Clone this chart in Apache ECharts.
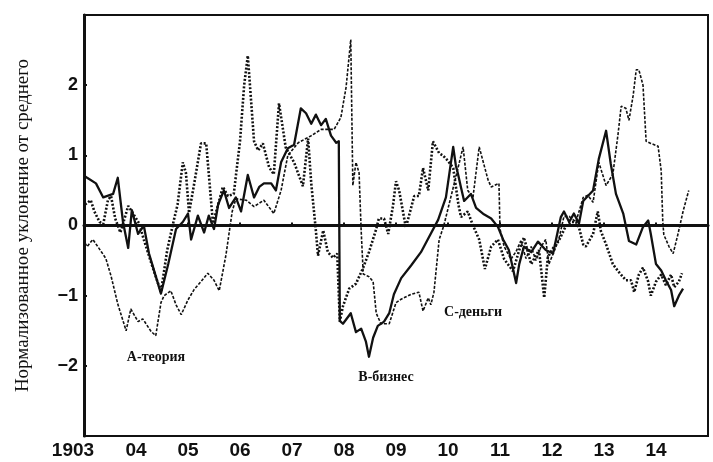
<!DOCTYPE html>
<html>
<head>
<meta charset="utf-8">
<script src="https://cdn.jsdelivr.net/npm/echarts@6/dist/echarts.min.js"></script>
<style>
  html, body { margin: 0; padding: 0; background: #fff; }
  #chart { width: 713px; height: 462px; }
</style>
</head>
<body>
<div id="chart"></div>
<script>
// Harvard ABC curves, 1903–1914: normalized deviation from the mean
// Each entry: [year, deviation]

// A — speculation (dotted)
const curveA = [
  [1903.02,0.30],[1903.13,0.36],[1903.20,0.20],[1903.30,0.05],[1903.37,0.02],[1903.46,0.36],[1903.52,0.42],
  [1903.60,0.10],[1903.70,-0.10],[1903.80,0.15],[1903.85,0.28],[1903.92,0.20],[1904.06,0.03],[1904.15,-0.20],
  [1904.30,-0.55],[1904.48,-0.95],[1904.60,-0.35],[1904.72,0.05],[1904.80,0.30],[1904.90,0.90],[1904.96,0.75],
  [1905.02,0.18],[1905.12,0.60],[1905.25,1.17],[1905.35,1.17],[1905.48,0.03],[1905.58,0.30],[1905.67,0.55],
  [1905.77,0.42],[1905.88,0.45],[1906.00,1.20],[1906.08,2.00],[1906.15,2.42],[1906.27,1.20],[1906.35,1.07],
  [1906.44,1.17],[1906.56,0.83],[1906.65,0.73],[1906.75,1.74],[1906.88,1.11],[1907.04,0.90],[1907.21,0.56],
  [1907.31,1.24],[1907.37,0.60],[1907.46,-0.08],[1907.50,-0.43],[1907.60,-0.07],[1907.69,-0.38],[1907.79,-0.46],
  [1907.87,-0.40],[1907.92,-1.37],[1907.98,-1.15],[1908.10,-0.90],[1908.23,-0.83],[1908.37,-0.60],[1908.48,-0.38],
  [1908.62,-0.05],[1908.67,0.10],[1908.77,0.10],[1908.85,-0.12],[1908.94,0.27],[1909.00,0.63],[1909.06,0.50],
  [1909.19,-0.03],[1909.35,0.42],[1909.44,0.42],[1909.52,0.82],[1909.62,0.50],[1909.71,1.20],[1909.83,1.03],
  [1909.90,1.00],[1910.00,0.92],[1910.10,0.82],[1910.20,0.30],[1910.25,0.12],[1910.38,0.20],[1910.48,0.00],
  [1910.60,-0.20],[1910.71,-0.62],[1910.83,-0.30],[1910.96,-0.20],[1911.08,-0.48],[1911.17,-0.57],[1911.25,-0.65],
  [1911.37,-0.35],[1911.46,-0.17],[1911.60,-0.55],[1911.75,-0.35],[1911.85,-1.03],[1911.92,-0.45],[1912.04,-0.30],
  [1912.13,-0.22],[1912.27,0.00],[1912.37,0.05],[1912.46,0.05],[1912.52,-0.03],[1912.60,-0.27],[1912.65,-0.30],
  [1912.79,-0.12],[1912.88,0.20],[1912.94,-0.08],[1913.04,-0.27],[1913.17,-0.55],[1913.27,-0.65],[1913.42,-0.78],
  [1913.52,-0.78],[1913.58,-0.95],[1913.67,-0.70],[1913.75,-0.60],[1913.85,-0.80],[1913.90,-1.00],[1914.00,-0.80],
  [1914.10,-0.70],[1914.19,-0.85],[1914.29,-0.70],[1914.35,-0.88],[1914.44,-0.80],[1914.50,-0.68]
];

// B — business (heavy solid)
const curveB = [
  [1903.02,0.70],[1903.06,0.68],[1903.23,0.60],[1903.37,0.40],[1903.56,0.45],[1903.65,0.68],[1903.75,0.05],
  [1903.85,-0.32],[1903.92,0.22],[1904.04,-0.12],[1904.15,0.00],[1904.25,-0.40],[1904.48,-0.97],[1904.62,-0.55],
  [1904.77,-0.05],[1904.90,0.05],[1905.00,0.17],[1905.06,-0.20],[1905.19,0.14],[1905.31,-0.10],[1905.40,0.14],
  [1905.50,-0.05],[1905.58,0.30],[1905.69,0.50],[1905.79,0.25],[1905.92,0.40],[1906.02,0.20],[1906.15,0.72],
  [1906.27,0.40],[1906.37,0.55],[1906.46,0.60],[1906.60,0.60],[1906.69,0.50],[1906.79,0.90],[1906.92,1.10],
  [1907.04,1.15],[1907.17,1.67],[1907.27,1.60],[1907.37,1.45],[1907.46,1.58],[1907.56,1.43],[1907.65,1.52],
  [1907.75,1.28],[1907.85,1.18],[1907.90,1.20],[1907.92,-1.36],[1907.98,-1.40],[1908.13,-1.25],[1908.23,-1.52],
  [1908.33,-1.47],[1908.42,-1.65],[1908.48,-1.87],[1908.56,-1.60],[1908.65,-1.43],[1908.77,-1.37],[1908.87,-1.25],
  [1908.96,-0.98],[1909.10,-0.75],[1909.29,-0.57],[1909.48,-0.38],[1909.63,-0.17],[1909.81,0.08],[1909.96,0.40],
  [1910.10,1.12],[1910.15,0.86],[1910.19,0.74],[1910.25,0.54],[1910.31,0.35],[1910.44,0.45],[1910.54,0.25],
  [1910.69,0.16],[1910.83,0.10],[1910.96,-0.02],[1911.06,-0.20],[1911.17,-0.35],[1911.31,-0.82],[1911.37,-0.55],
  [1911.46,-0.30],[1911.60,-0.38],[1911.73,-0.23],[1911.88,-0.35],[1912.02,-0.40],[1912.17,0.12],[1912.23,0.20],
  [1912.33,0.05],[1912.42,0.17],[1912.52,0.03],[1912.60,0.35],[1912.69,0.42],[1912.79,0.50],[1912.90,0.95],
  [1913.04,1.35],[1913.13,0.88],[1913.23,0.45],[1913.37,0.17],[1913.48,-0.22],[1913.62,-0.27],[1913.75,-0.02],
  [1913.85,0.07],[1913.90,-0.12],[1914.00,-0.55],[1914.10,-0.64],[1914.19,-0.78],[1914.29,-0.92],[1914.35,-1.15],
  [1914.44,-1.00],[1914.52,-0.90]
];

// C — money (light line)
const curveC = [
  [1903.02,-0.25],[1903.06,-0.30],[1903.17,-0.20],[1903.33,-0.37],[1903.42,-0.47],[1903.52,-0.72],[1903.65,-1.12],
  [1903.81,-1.50],[1903.90,-1.19],[1904.04,-1.37],[1904.13,-1.33],[1904.29,-1.51],[1904.38,-1.57],[1904.48,-1.10],
  [1904.54,-1.00],[1904.67,-0.93],[1904.77,-1.13],[1904.87,-1.27],[1905.00,-1.06],[1905.12,-0.91],[1905.25,-0.80],
  [1905.38,-0.68],[1905.50,-0.78],[1905.60,-0.93],[1905.73,-0.42],[1905.85,0.20],[1905.92,0.38],[1906.12,0.36],
  [1906.27,0.27],[1906.46,0.36],[1906.65,0.17],[1906.79,0.50],[1906.92,1.00],[1907.12,1.18],[1907.37,1.28],
  [1907.56,1.37],[1907.81,1.37],[1907.94,1.54],[1908.04,1.97],[1908.13,2.65],[1908.17,0.57],[1908.23,0.90],
  [1908.29,0.75],[1908.33,-0.07],[1908.37,-0.69],[1908.48,-0.73],[1908.56,-0.80],[1908.62,-1.25],[1908.71,-1.40],
  [1908.87,-1.40],[1909.00,-1.10],[1909.10,-1.05],[1909.29,-0.98],[1909.44,-0.95],[1909.52,-1.22],[1909.62,-1.03],
  [1909.67,-1.13],[1909.73,-0.95],[1909.83,-0.20],[1909.92,0.00],[1910.06,0.42],[1910.17,0.75],[1910.29,1.12],
  [1910.38,0.50],[1910.48,0.40],[1910.60,1.12],[1910.77,0.65],[1910.83,0.55],[1910.98,0.60],[1911.00,-0.05],
  [1911.08,-0.30],[1911.21,-0.48],[1911.31,-0.37],[1911.40,-0.22],[1911.50,-0.47],[1911.60,-0.30],[1911.69,-0.50],
  [1911.79,-0.30],[1911.88,-0.20],[1911.94,-0.55],[1912.04,-0.37],[1912.13,-0.20],[1912.23,0.13],[1912.33,0.13],
  [1912.46,0.05],[1912.60,0.40],[1912.69,0.43],[1912.79,0.33],[1912.90,0.90],[1913.04,0.57],[1913.17,0.73],
  [1913.27,1.30],[1913.33,1.70],[1913.42,1.67],[1913.48,1.50],[1913.56,1.85],[1913.62,2.22],[1913.67,2.22],
  [1913.75,2.00],[1913.81,1.20],[1913.90,1.17],[1914.04,1.13],[1914.10,0.78],[1914.13,0.06],[1914.15,-0.13],
  [1914.25,-0.30],[1914.33,-0.40],[1914.42,-0.13],[1914.52,0.20],[1914.63,0.50]
];

// Axis ticks
const yearTicks = [1903, 1904, 1905, 1906, 1907, 1908, 1909, 1910, 1911, 1912, 1913, 1914];
const yearLabels = ['1903', '04', '05', '06', '07', '08', '09', '10', '11', '12', '13', '14'];
const valueTicks = [-2, -1, 0, 1, 2];

// Curve captions
const captions = [
  { text: 'А-теория', x: 156, y: 357 },
  { text: 'В-бизнес', x: 386, y: 377 },
  { text: 'С-деньги', x: 473, y: 312 }
];

const INK = '#111';
const chart = echarts.init(document.getElementById('chart'), null, { renderer: 'canvas' });

chart.setOption({
  animation: false,
  backgroundColor: '#fff',
  grid: {
    left: 84, right: 5, top: 15, bottom: 26,
    show: true, borderColor: INK, borderWidth: 2
  },
  xAxis: {
    type: 'value',
    min: 1903, max: 1915, interval: 1,
    axisLine: { show: true, lineStyle: { color: INK, width: 3 } },
    axisTick: { show: true, inside: true, length: 3, lineStyle: { color: INK, width: 2 } },
    splitLine: { show: false },
    axisLabel: {
      margin: 5,
      color: INK,
      fontFamily: 'Liberation Sans',
      fontWeight: 'bold',
      fontSize: 19,
      formatter: function (v) {
        const i = yearTicks.indexOf(Math.round(v));
        if (i < 0) return '';
        return i === 0 ? yearLabels[i] + '{pad|}' : yearLabels[i];
      },
      rich: { pad: { width: 22 } }
    }
  },
  yAxis: {
    type: 'value',
    min: -3, max: 3, interval: 1,
    name: 'Нормализованное уклонение от среднего',
    nameLocation: 'middle',
    nameRotate: 90,
    nameGap: 51,
    nameTextStyle: { fontFamily: 'Liberation Serif', fontSize: 19, color: INK },
    axisLine: { show: true, lineStyle: { color: INK, width: 3 } },
    axisTick: { show: true, inside: true, length: 3, lineStyle: { color: INK, width: 2 } },
    splitLine: { show: false },
    axisLabel: {
      margin: 6,
      color: INK,
      fontFamily: 'Liberation Sans',
      fontWeight: 'bold',
      fontSize: 18,
      formatter: function (v) {
        if (valueTicks.indexOf(v) < 0) return '';
        return v < 0 ? '\u2212' + Math.abs(v) : String(v);
      }
    }
  },
  series: [
    {
      name: 'A', type: 'line', data: curveA, showSymbol: false, silent: true,
      lineStyle: { color: INK, width: 2.6, type: [2, 1.8], cap: 'butt' }
    },
    {
      name: 'B', type: 'line', data: curveB, showSymbol: false, silent: true,
      lineStyle: { color: INK, width: 2.3, join: 'round' },
      markLine: {
        silent: true, symbol: ['none', 'none'], label: { show: false },
        lineStyle: { color: INK, width: 1, type: 'solid' },
        data: [{ yAxis: 0 }]
      }
    },
    {
      name: 'C', type: 'line', data: curveC, showSymbol: false, silent: true,
      lineStyle: { color: INK, width: 1.6, type: [3, 1.6] }
    }
  ],
  graphic: captions.map(function (c) {
    return {
      type: 'text',
      x: c.x, y: c.y,
      style: {
        text: c.text,
        font: 'bold 14px "Liberation Serif"',
        fill: INK,
        align: 'center',
        verticalAlign: 'middle'
      }
    };
  })
});
</script>
</body>
</html>
